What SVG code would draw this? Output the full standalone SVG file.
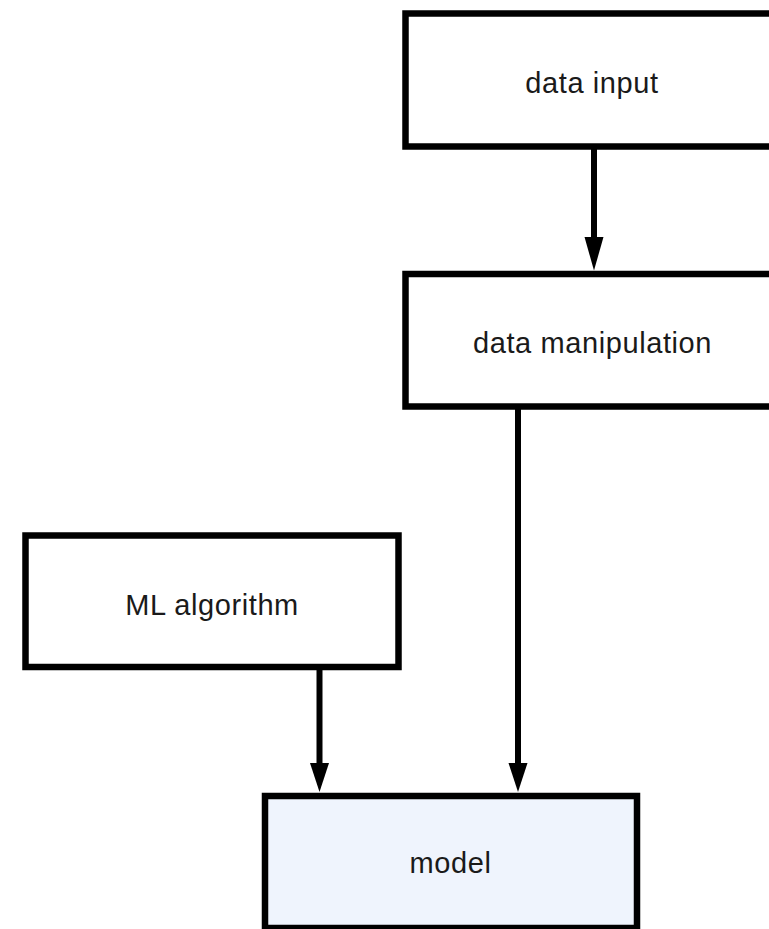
<svg xmlns="http://www.w3.org/2000/svg" width="769" height="929" viewBox="0 0 769 929">
<style>
.box{fill:#ffffff;stroke:#000000;stroke-width:6.5}
.model{fill:#eff4fd}
.lbl{font-family:"Liberation Sans",Arial,sans-serif;font-size:29px;fill:#1a1a1a;text-anchor:middle;letter-spacing:0.6px}
.edge{stroke:#000000;stroke-width:6;fill:none}
.head{fill:#000000}
</style>
<rect width="769" height="929" fill="#ffffff"/>
<g id="connectors">
<line class="edge" x1="594" y1="146" x2="594" y2="240"/>
<polygon class="head" points="584.5,237 603.5,237 594,270.5"/>
<line class="edge" x1="518" y1="406" x2="518" y2="766"/>
<polygon class="head" points="508.5,763 527.5,763 518,792"/>
<line class="edge" x1="319.5" y1="667" x2="319.5" y2="766"/>
<polygon class="head" points="310,763 329,763 319.5,792"/>
</g>
<g id="data-input">
<rect class="box" x="405.5" y="13.5" width="373" height="133"/>
<text class="lbl" x="592" y="92.5">data input</text>
</g>
<g id="data-manipulation">
<rect class="box" x="405.5" y="274" width="373" height="132.5"/>
<text class="lbl" x="592.5" y="352.5">data manipulation</text>
</g>
<g id="ml-algorithm">
<rect class="box" x="25.5" y="535.5" width="373" height="131.5"/>
<text class="lbl" x="212" y="615">ML algorithm</text>
</g>
<g id="model">
<rect class="box model" x="265" y="796" width="372" height="132"/>
<text class="lbl" x="450.5" y="873">model</text>
</g>
</svg>
